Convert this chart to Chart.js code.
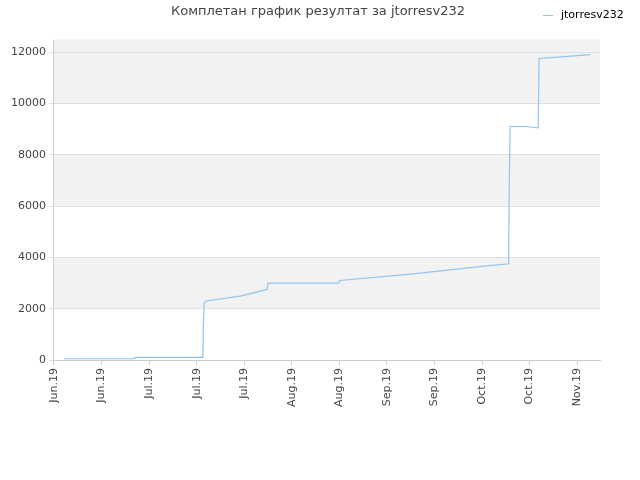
<!DOCTYPE html>
<html>
<head>
<meta charset="utf-8">
<script src="https://cdn.jsdelivr.net/npm/chart.js@4"></script>
<style>
  html, body { margin: 0; padding: 0; background: #fff; }
  #wrap { width: 640px; height: 480px; }
</style>
</head>
<body>
<div id="wrap"><canvas id="chart" width="640" height="480"></canvas></div>
<script>
'use strict';

const titleText = 'Комплетан график резултат за jtorresv232';
const seriesName = 'jtorresv232';
const tickLabels = ['Jun.19', 'Jun.19', 'Jul.19', 'Jul.19', 'Jul.19', 'Aug.19', 'Aug.19', 'Sep.19', 'Sep.19', 'Oct.19', 'Oct.19', 'Nov.19'];
// x is measured in tick slots (0 = first label)
const pointX = [0.21, 1.69, 1.70, 3.13, 3.14, 3.16, 3.20, 3.94, 4.48, 4.49, 4.50, 5.97, 6.00, 6.01, 7.5, 9.0, 9.56, 9.57, 9.59, 9.91, 10.18, 10.19, 10.20, 10.6, 11.27];
const pointY = [50, 50, 100, 100, 1300, 2250, 2300, 2500, 2750, 2750, 3000, 3000, 3050, 3100, 3350, 3650, 3750, 6500, 9100, 9100, 9050, 9050, 11750, 11800, 11900];

const bandPlugin = {
  id: 'bands',
  beforeDraw(chart) {
    const { ctx, chartArea, scales } = chart;
    const y = scales.y;
    ctx.save();
    ctx.fillStyle = '#f2f2f2';
    for (const [lo, hi] of [[2000, 4000], [6000, 8000], [10000, 12500]]) {
      const top = y.getPixelForValue(hi);
      const bottom = y.getPixelForValue(lo);
      ctx.fillRect(chartArea.left, top, chartArea.right - chartArea.left, bottom - top);
    }
    ctx.restore();
  }
};

const headerPlugin = {
  id: 'header',
  afterDraw(chart) {
    const { ctx } = chart;
    ctx.save();
    ctx.fillStyle = '#444';
    ctx.font = '13px "DejaVu Sans", sans-serif';
    ctx.textAlign = 'center';
    ctx.textBaseline = 'middle';
    ctx.fillText(titleText, 318, 12);
    ctx.strokeStyle = '#90c4f4';
    ctx.lineWidth = 1;
    ctx.beginPath();
    ctx.moveTo(543, 15.5);
    ctx.lineTo(553, 15.5);
    ctx.stroke();
    ctx.fillStyle = '#000';
    ctx.font = '11px "DejaVu Sans", sans-serif';
    ctx.textAlign = 'left';
    ctx.fillText(seriesName, 561, 15);
    ctx.restore();
  }
};

new Chart(document.getElementById('chart'), {
  type: 'line',
  data: {
    datasets: [{
      label: seriesName,
      data: pointX.map((x, i) => ({ x, y: pointY[i] })),
      borderColor: '#90c4f4',
      backgroundColor: '#90c4f4',
      borderWidth: 1.2,
      pointRadius: 0,
      tension: 0
    }]
  },
  plugins: [bandPlugin, headerPlugin],
  options: {
    responsive: false,
    animation: false,
    layout: { padding: { top: 40, right: 40, bottom: 70, left: 8 } },
    plugins: { legend: { display: false }, title: { display: false }, tooltip: { enabled: false } },
    scales: {
      x: {
        type: 'linear',
        min: 0,
        max: 11.48,
        afterBuildTicks(axis) {
          axis.ticks = tickLabels.map((_, i) => ({ value: i }));
        },
        ticks: {
          color: '#444',
          font: { size: 11, family: 'DejaVu Sans' },
          minRotation: 90,
          maxRotation: 90,
          autoSkip: false,
          callback: (v) => tickLabels[v]
        },
        grid: { drawOnChartArea: false, color: '#ccc', tickLength: 5 },
        border: { color: '#ccc' }
      },
      y: {
        min: 0,
        max: 12470,
        afterBuildTicks(axis) {
          axis.ticks = [0, 2000, 4000, 6000, 8000, 10000, 12000].map((v) => ({ value: v }));
        },
        ticks: { color: '#444', font: { size: 11, family: 'DejaVu Sans' }, callback: (v) => String(v) },
        grid: { color: '#e0e0e0', tickLength: 5 },
        border: { color: '#ccc' }
      }
    }
  }
});
</script>
</body>
</html>
